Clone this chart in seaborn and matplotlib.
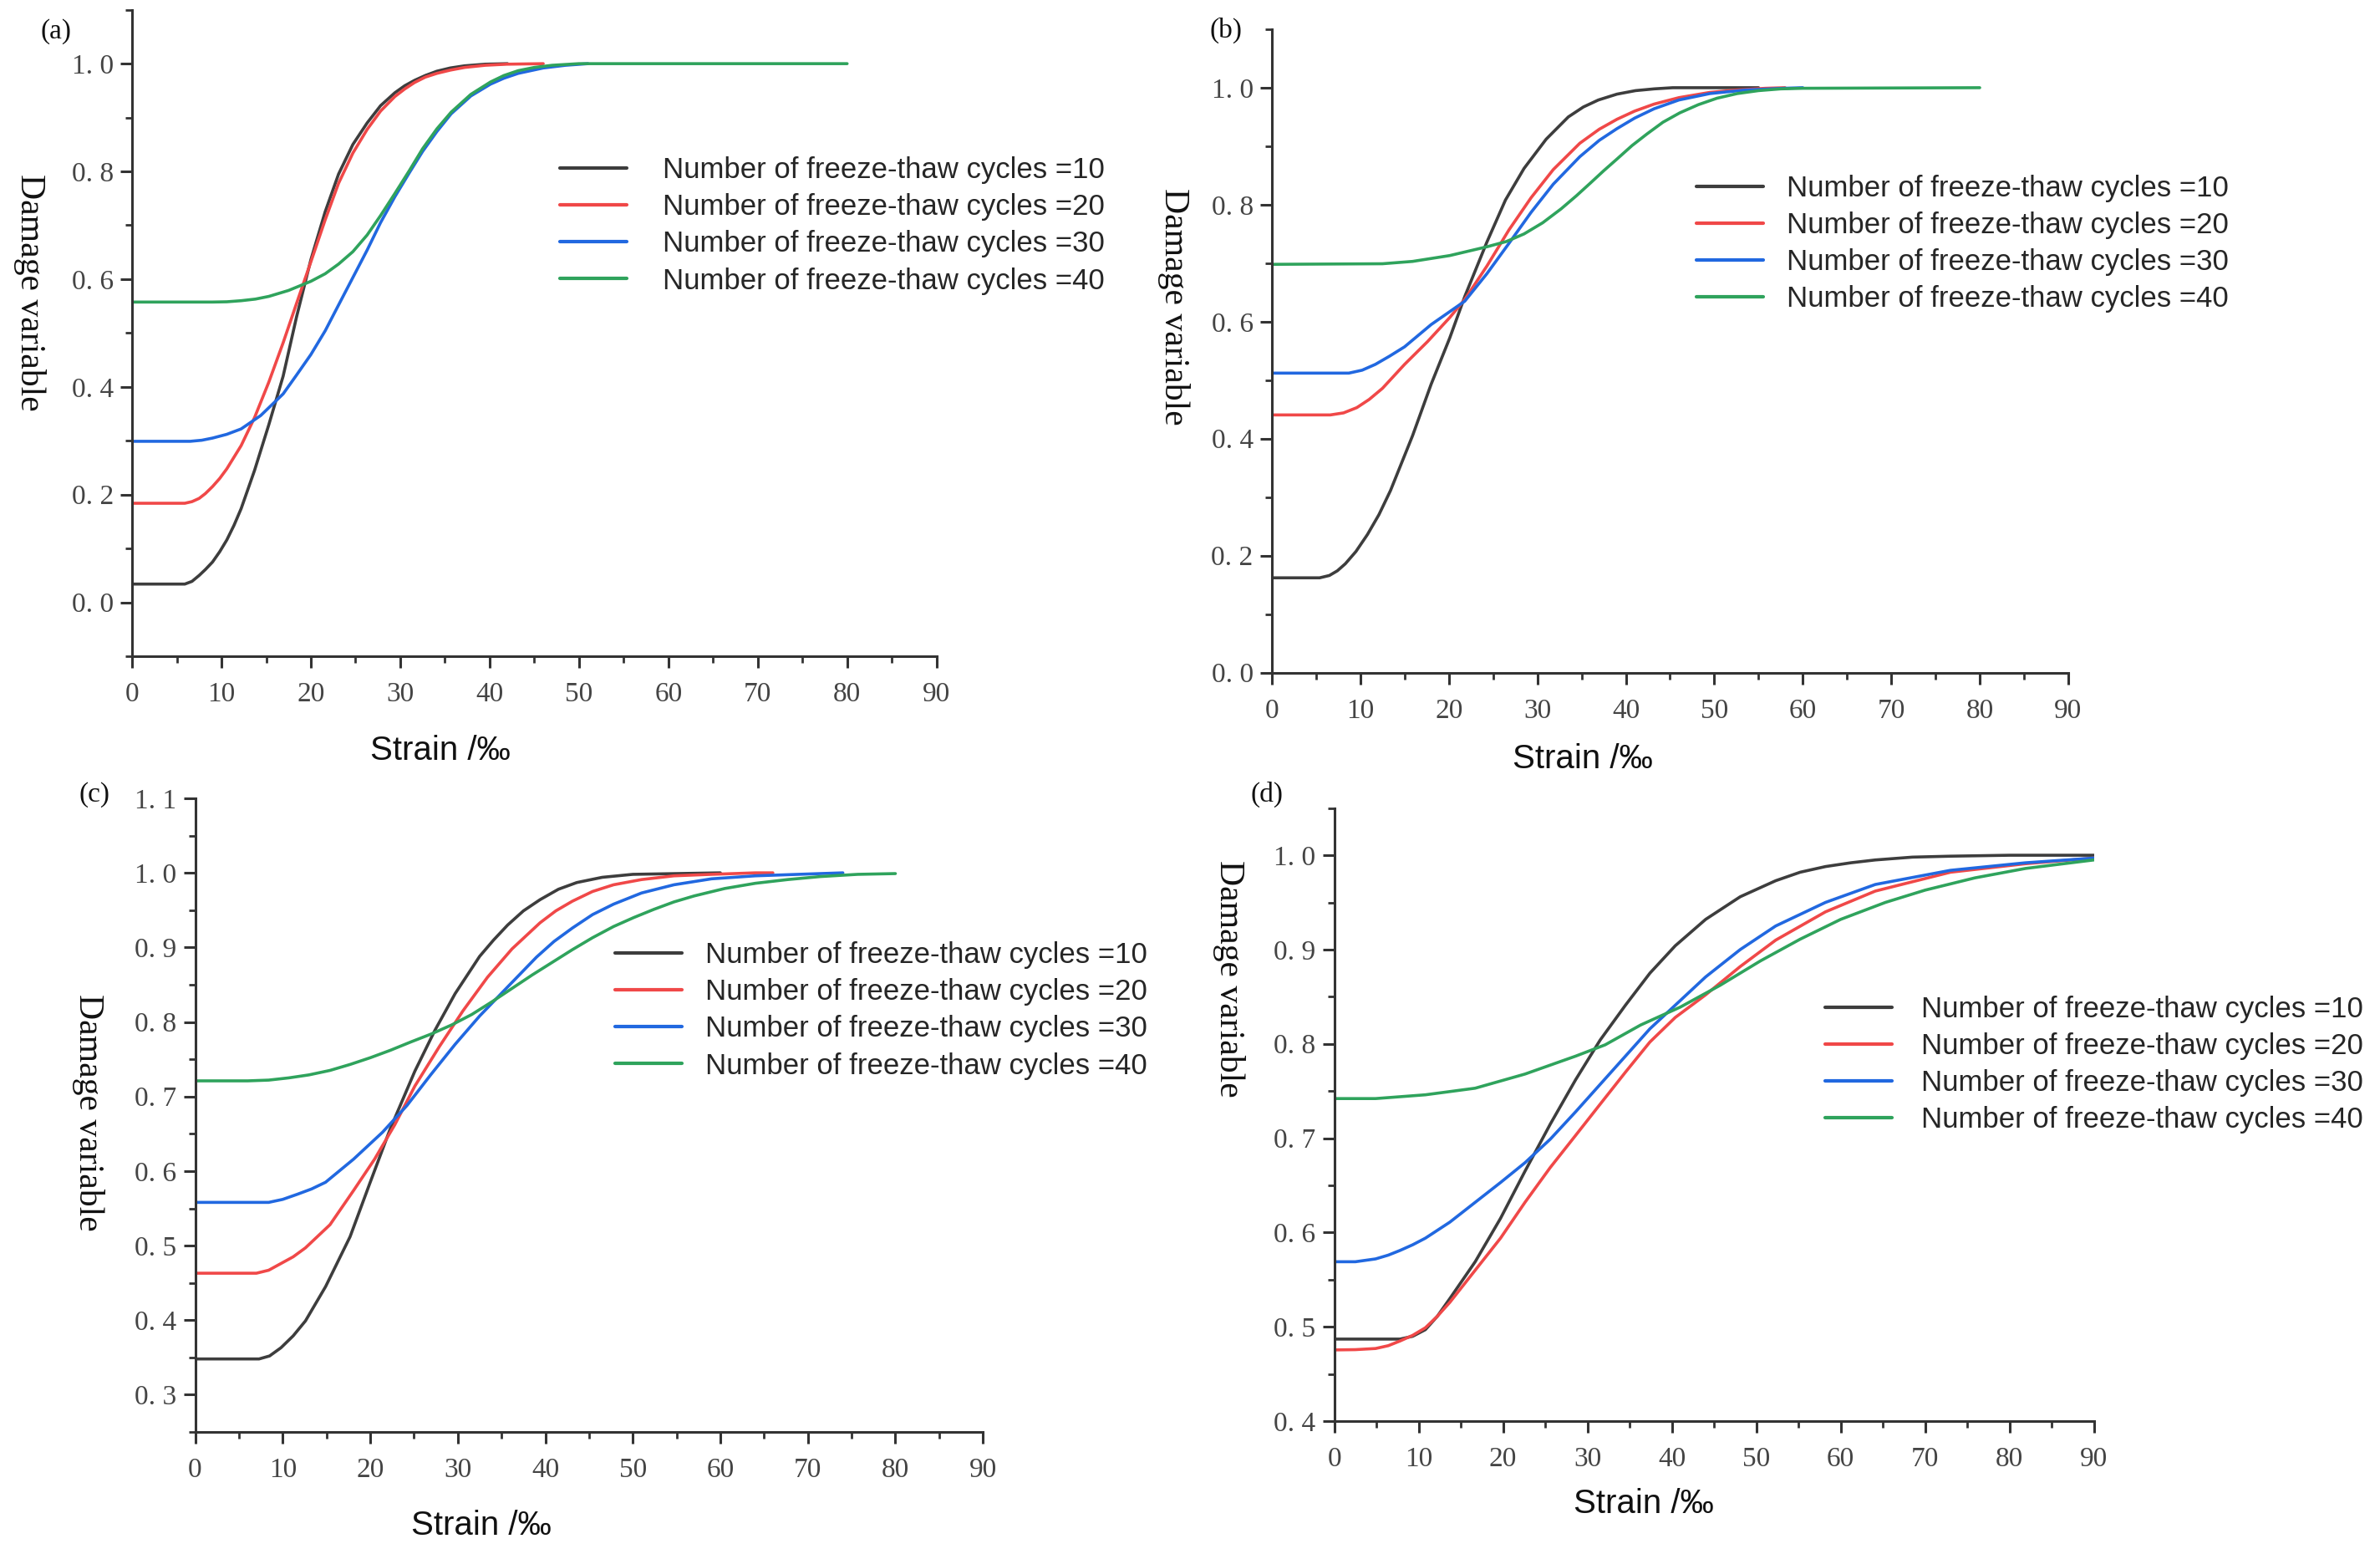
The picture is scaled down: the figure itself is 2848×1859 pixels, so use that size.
import matplotlib
matplotlib.use("Agg")
import pandas as pd
import seaborn as sns
from matplotlib import pyplot as plt
from matplotlib.ticker import MultipleLocator, FixedLocator, FuncFormatter

CYCLES = [10, 20, 30, 40]
COLORS = ["#3d3d3d", "#f04848", "#2168e0", "#2fa35c"]

# ---- panel (a) ----
a_x10 = [0, 5.9, 6.7, 7.5, 8.2, 9.0, 9.8, 10.6, 11.4, 12.2, 13.7, 15.3, 16.9, 18.4, 20.0, 21.6, 23.1, 24.7, 26.3, 27.8, 29.4, 30.5, 31.6, 32.8, 34.1, 35.6, 37.2, 39.5, 42.0]
a_y10 = [0.034, 0.034, 0.039, 0.05, 0.061, 0.075, 0.094, 0.116, 0.143, 0.174, 0.245, 0.33, 0.42, 0.53, 0.636, 0.725, 0.795, 0.85, 0.89, 0.922, 0.946, 0.959, 0.969, 0.978, 0.986, 0.992, 0.996, 0.999, 1.0]
a_x20 = [0, 5.9, 6.7, 7.5, 8.2, 9.0, 9.8, 10.6, 12.2, 13.7, 15.3, 16.9, 18.4, 20.0, 21.6, 23.1, 24.7, 26.3, 27.8, 29.4, 30.5, 31.6, 32.8, 34.1, 35.6, 37.2, 39.5, 41.9, 46.0]
a_y20 = [0.184, 0.184, 0.187, 0.193, 0.202, 0.215, 0.23, 0.248, 0.291, 0.343, 0.409, 0.482, 0.555, 0.632, 0.71, 0.778, 0.834, 0.878, 0.912, 0.939, 0.953, 0.965, 0.975, 0.982, 0.988, 0.993, 0.997, 0.999, 1.0]
a_x30 = [0, 6.5, 7.8, 9.0, 10.6, 12.2, 14.4, 16.9, 18.4, 20.0, 21.6, 23.1, 24.7, 26.3, 27.8, 29.4, 31.0, 32.5, 34.1, 35.7, 37.9, 40.1, 41.6, 43.2, 46.0, 48.5, 51.0]
a_y30 = [0.299, 0.299, 0.301, 0.305, 0.312, 0.322, 0.347, 0.387, 0.422, 0.46, 0.504, 0.552, 0.603, 0.654, 0.705, 0.753, 0.797, 0.837, 0.874, 0.907, 0.94, 0.962, 0.973, 0.982, 0.992, 0.997, 1.0]
a_x40 = [0, 9.0, 10.6, 12.2, 13.8, 15.3, 17.5, 20.0, 21.6, 23.1, 24.7, 26.3, 27.8, 29.4, 31.0, 32.5, 34.1, 35.7, 37.9, 40.1, 41.6, 43.2, 45.0, 47.0, 50.0, 80.0]
a_y40 = [0.5575, 0.5575, 0.558, 0.56, 0.563, 0.568, 0.579, 0.596, 0.61, 0.628, 0.651, 0.682, 0.718, 0.759, 0.801, 0.842, 0.879, 0.91, 0.943, 0.966, 0.978, 0.987, 0.993, 0.997, 1.0, 1.0]

# ---- panel (b) ----
b_x10 = [0, 5.4, 6.5, 7.4, 8.3, 9.5, 10.8, 12.1, 13.4, 15.9, 18.0, 20.1, 21.8, 24.3, 26.4, 28.5, 31.0, 33.5, 35.2, 36.9, 39.0, 41.1, 43.2, 45.3, 55.0]
b_y10 = [0.162, 0.162, 0.166, 0.174, 0.186, 0.207, 0.236, 0.27, 0.311, 0.405, 0.493, 0.572, 0.643, 0.736, 0.808, 0.862, 0.912, 0.95, 0.967, 0.979, 0.989, 0.995, 0.998, 1.0, 1.0]
b_x20 = [0, 6.6, 8.1, 9.6, 11.0, 12.5, 15.0, 17.6, 20.1, 21.8, 24.3, 26.8, 29.3, 31.8, 34.8, 37.0, 39.0, 41.0, 43.2, 46.0, 49.5, 52.5, 55.8, 58.0]
b_y20 = [0.4405, 0.4405, 0.444, 0.453, 0.467, 0.486, 0.527, 0.566, 0.607, 0.638, 0.695, 0.757, 0.812, 0.86, 0.905, 0.929, 0.946, 0.96, 0.972, 0.983, 0.992, 0.996, 0.999, 1.0]
b_x30 = [0, 8.7, 10.2, 11.7, 13.3, 15.0, 18.0, 21.8, 24.3, 26.8, 29.3, 31.8, 34.8, 37.0, 39.0, 41.0, 43.2, 46.0, 49.5, 53.5, 57.9, 60.0]
b_y30 = [0.512, 0.512, 0.517, 0.527, 0.541, 0.557, 0.595, 0.635, 0.682, 0.734, 0.787, 0.835, 0.882, 0.91, 0.93, 0.948, 0.964, 0.979, 0.99, 0.996, 0.999, 1.0]
b_x40 = [0, 12.5, 15.9, 20.1, 24.3, 26.5, 28.5, 30.6, 32.7, 34.4, 36.0, 37.5, 39.0, 40.7, 42.4, 44.2, 46.1, 48.2, 50.3, 52.6, 55.0, 57.5, 60.0, 80.0]
b_y40 = [0.698, 0.699, 0.703, 0.713, 0.728, 0.737, 0.75, 0.769, 0.793, 0.815, 0.837, 0.858, 0.878, 0.901, 0.921, 0.941, 0.957, 0.971, 0.982, 0.99, 0.995, 0.998, 0.999, 1.0]

# ---- panel (c) ----
c_x10 = [0, 7.3, 8.5, 9.8, 11.2, 12.6, 14.9, 17.7, 20.0, 22.3, 25.1, 27.4, 29.7, 32.5, 34.1, 35.7, 37.5, 39.4, 41.5, 43.6, 46.5, 50.0, 55.0, 60.0]
c_y10 = [0.348, 0.348, 0.352, 0.363, 0.379, 0.399, 0.445, 0.512, 0.585, 0.657, 0.734, 0.789, 0.838, 0.888, 0.91, 0.93, 0.949, 0.964, 0.978, 0.987, 0.994, 0.998, 0.999, 1.0]
c_x20 = [0, 7.0, 8.4, 9.8, 11.2, 12.6, 15.4, 18.1, 20.5, 22.8, 25.1, 27.9, 30.6, 33.4, 36.2, 39.4, 41.2, 43.1, 45.4, 47.8, 51.0, 54.7, 59.0, 64.0, 66.0]
c_y20 = [0.463, 0.463, 0.467, 0.476, 0.485, 0.497, 0.528, 0.574, 0.616, 0.662, 0.714, 0.767, 0.815, 0.86, 0.898, 0.933, 0.949, 0.962, 0.975, 0.984, 0.991, 0.996, 0.998, 1.0, 1.0]
c_x30 = [0, 8.4, 10.0, 11.7, 13.3, 14.9, 18.1, 21.4, 24.2, 26.9, 29.7, 32.5, 35.7, 39.0, 41.0, 43.1, 45.4, 47.8, 51.0, 54.7, 59.0, 64.0, 71.4, 74.0]
c_y30 = [0.558, 0.558, 0.562, 0.569, 0.576, 0.585, 0.616, 0.652, 0.688, 0.729, 0.77, 0.808, 0.847, 0.887, 0.908, 0.926, 0.944, 0.958, 0.973, 0.984, 0.992, 0.996, 0.999, 1.0]
c_x40 = [0, 6.0, 8.4, 10.7, 13.0, 15.4, 17.7, 20.0, 22.3, 24.6, 27.0, 29.3, 31.6, 33.9, 36.2, 38.5, 40.8, 43.1, 45.4, 47.8, 50.1, 52.4, 54.7, 57.0, 60.5, 64.0, 67.7, 71.4, 75.7, 80.0]
c_y40 = [0.721, 0.721, 0.722, 0.725, 0.729, 0.735, 0.743, 0.752, 0.762, 0.773, 0.784, 0.796, 0.81, 0.827, 0.845, 0.863, 0.88, 0.897, 0.913, 0.928, 0.94, 0.951, 0.961, 0.969, 0.979, 0.986, 0.991, 0.995, 0.998, 0.999]

# ---- panel (d) ----
d_x10 = [0, 7.8, 9.3, 10.8, 12.2, 13.7, 16.7, 19.7, 22.6, 25.6, 28.6, 31.5, 34.5, 37.4, 40.4, 44.0, 48.1, 52.3, 55.2, 58.2, 61.2, 64.1, 68.5, 73.0, 80.0, 90.0]
d_y10 = [0.487, 0.487, 0.49, 0.497, 0.511, 0.53, 0.569, 0.615, 0.665, 0.715, 0.762, 0.804, 0.841, 0.875, 0.904, 0.932, 0.956, 0.973, 0.982, 0.988, 0.992, 0.995, 0.998, 0.999, 1.0, 1.0]
d_x20 = [0, 2.5, 4.9, 6.4, 7.8, 9.3, 10.8, 12.2, 13.7, 16.7, 19.7, 22.6, 25.6, 28.6, 31.5, 34.5, 37.4, 40.4, 44.0, 48.1, 52.3, 58.2, 64.1, 73.0, 81.9, 90.0]
d_y20 = [0.4755, 0.4758, 0.477, 0.48, 0.485, 0.491, 0.499, 0.511, 0.526, 0.56, 0.594, 0.632, 0.669, 0.703, 0.736, 0.77, 0.802, 0.828, 0.852, 0.882, 0.91, 0.94, 0.962, 0.982, 0.991, 0.997]
d_x30 = [0, 2.5, 4.9, 6.4, 7.8, 9.3, 10.8, 13.7, 16.7, 19.7, 22.6, 25.6, 28.6, 31.5, 34.5, 37.4, 40.4, 44.0, 48.1, 52.3, 58.2, 64.1, 73.0, 81.9, 90.0]
d_y30 = [0.569, 0.569, 0.572, 0.576, 0.581, 0.587, 0.594, 0.611, 0.632, 0.653, 0.674, 0.699, 0.728, 0.757, 0.787, 0.816, 0.841, 0.871, 0.9, 0.925, 0.95, 0.969, 0.984, 0.992, 0.997]
d_x40 = [0, 4.9, 10.8, 16.7, 22.6, 28.6, 32.1, 36.3, 41.0, 45.7, 50.5, 55.2, 60.0, 65.3, 70.0, 75.9, 81.9, 90.0]
d_y40 = [0.742, 0.742, 0.746, 0.753, 0.768, 0.787, 0.799, 0.82, 0.839, 0.862, 0.888, 0.911, 0.932, 0.95, 0.963, 0.976, 0.986, 0.995]

X_TICKS = list(range(0, 100, 10))
A_YTICKS = [0.0, 0.2, 0.4, 0.6, 0.8, 1.0]
B_YTICKS = [0.0, 0.2, 0.4, 0.6, 0.8, 1.0]
C_YTICKS = [0.3, 0.4, 0.5, 0.6, 0.7, 0.8, 0.9, 1.0, 1.1]
D_YTICKS = [0.4, 0.5, 0.6, 0.7, 0.8, 0.9, 1.0]

SERIF = ["Liberation Serif", "DejaVu Serif"]
SANS = ["Liberation Sans", "DejaVu Sans"]

panels = [
    dict(tag="(a)", curves=[(a_x10, a_y10), (a_x20, a_y20), (a_x30, a_y30), (a_x40, a_y40)],
         rect=[0.0555, 0.5777, 0.338, 0.416], ylim=(-0.1, 1.1), yticks=A_YTICKS, yminor=0.1,
         leg=(0.2353, 0.8548), pad=1.24, ylab=(0.0126, 0.8117), tagpos=(0.0235, 0.980), xlab=(0.185, 0.5168)),
    dict(tag="(b)", curves=[(b_x10, b_y10), (b_x20, b_y20), (b_x30, b_y30), (b_x40, b_y40)],
         rect=[0.5344, 0.5672, 0.3346, 0.414], ylim=(0.0, 1.1), yticks=B_YTICKS, yminor=0.1,
         leg=(0.7128, 0.8431), pad=0.8, ylab=(0.493, 0.8026), tagpos=(0.515, 0.9806), xlab=(0.665, 0.5117)),
    dict(tag="(c)", curves=[(c_x10, c_y10), (c_x20, c_y20), (c_x30, c_y30), (c_x40, c_y40)],
         rect=[0.082, 0.0785, 0.331, 0.4078], ylim=(0.25, 1.1), yticks=C_YTICKS, yminor=0.05,
         leg=(0.2584, 0.3497), pad=0.8, ylab=(0.0369, 0.284), tagpos=(0.0397, 0.4884), xlab=(0.2022, 0.0185)),
    dict(tag="(d)", curves=[(d_x10, d_y10), (d_x20, d_y20), (d_x30, d_y30), (d_x40, d_y40)],
         rect=[0.5606, 0.0855, 0.3192, 0.3945], ylim=(0.4, 1.05), yticks=D_YTICKS, yminor=0.05,
         leg=(0.767, 0.315), pad=1.0, ylab=(0.5165, 0.37), tagpos=(0.5323, 0.489), xlab=(0.6907, 0.0322)),
]

sns.set_style("ticks")
plt.rcParams["font.family"] = SANS

fig = plt.figure(figsize=(28.48, 18.59), dpi=100)
tick_fmt = FuncFormatter(lambda v, pos: f"{v:.1f}".replace(".", ". "))

for p in panels:
    ax = fig.add_axes(p["rect"])
    for (xs, ys), cyc, col in zip(p["curves"], CYCLES, COLORS):
        df = pd.DataFrame({"strain": xs, "damage": ys})
        sns.lineplot(data=df, x="strain", y="damage", ax=ax, color=col, linewidth=2.6,
                     estimator=None, sort=False, label=f"Number of freeze-thaw cycles ={cyc}")
    ax.set_xlim(0, 90)
    ax.set_ylim(*p["ylim"])
    ax.xaxis.set_major_locator(FixedLocator(X_TICKS))
    ax.xaxis.set_minor_locator(MultipleLocator(5))
    ax.yaxis.set_major_locator(FixedLocator(p["yticks"]))
    ax.yaxis.set_minor_locator(MultipleLocator(p["yminor"]))
    ax.xaxis.set_major_formatter(FuncFormatter(lambda v, pos: f"{v:.0f}"))
    ax.yaxis.set_major_formatter(tick_fmt)
    ax.set_xlabel("")
    ax.set_ylabel("")
    sns.despine(ax=ax)
    for s in ("left", "bottom"):
        ax.spines[s].set_linewidth(2.2)
        ax.spines[s].set_color("#333333")
    ax.tick_params(which="major", direction="out", length=10, width=2.2, color="#333333",
                   labelsize=24, labelcolor="#444444")
    ax.tick_params(which="minor", direction="out", length=5.5, width=2.0, color="#333333")
    ax.tick_params(axis="x", which="major", pad=12)
    ax.tick_params(axis="y", which="major", pad=6)
    for lab in ax.get_xticklabels() + ax.get_yticklabels():
        lab.set_family(SERIF)
    ax.legend(loc="center left", bbox_to_anchor=p["leg"], bbox_transform=fig.transFigure,
              frameon=False, fontsize=25, handlelength=2.3, handletextpad=p["pad"],
              labelspacing=0.32, borderpad=0, borderaxespad=0)
    for line in ax.get_legend().get_lines():
        line.set_linewidth(3.0)
    fig.text(p["ylab"][0], p["ylab"][1], "Damage variable", rotation=-90, ha="center", va="center",
             fontsize=30, family=SERIF, color="#111111")
    fig.text(p["tagpos"][0], p["tagpos"][1], p["tag"], ha="center", va="center",
             fontsize=24, family=SERIF, color="#111111")
    fig.text(p["xlab"][0], p["xlab"][1], "Strain /‰", ha="center", va="center",
             fontsize=29, family=SANS, color="#111111")

fig.savefig("out.png", dpi=100, facecolor="white")
